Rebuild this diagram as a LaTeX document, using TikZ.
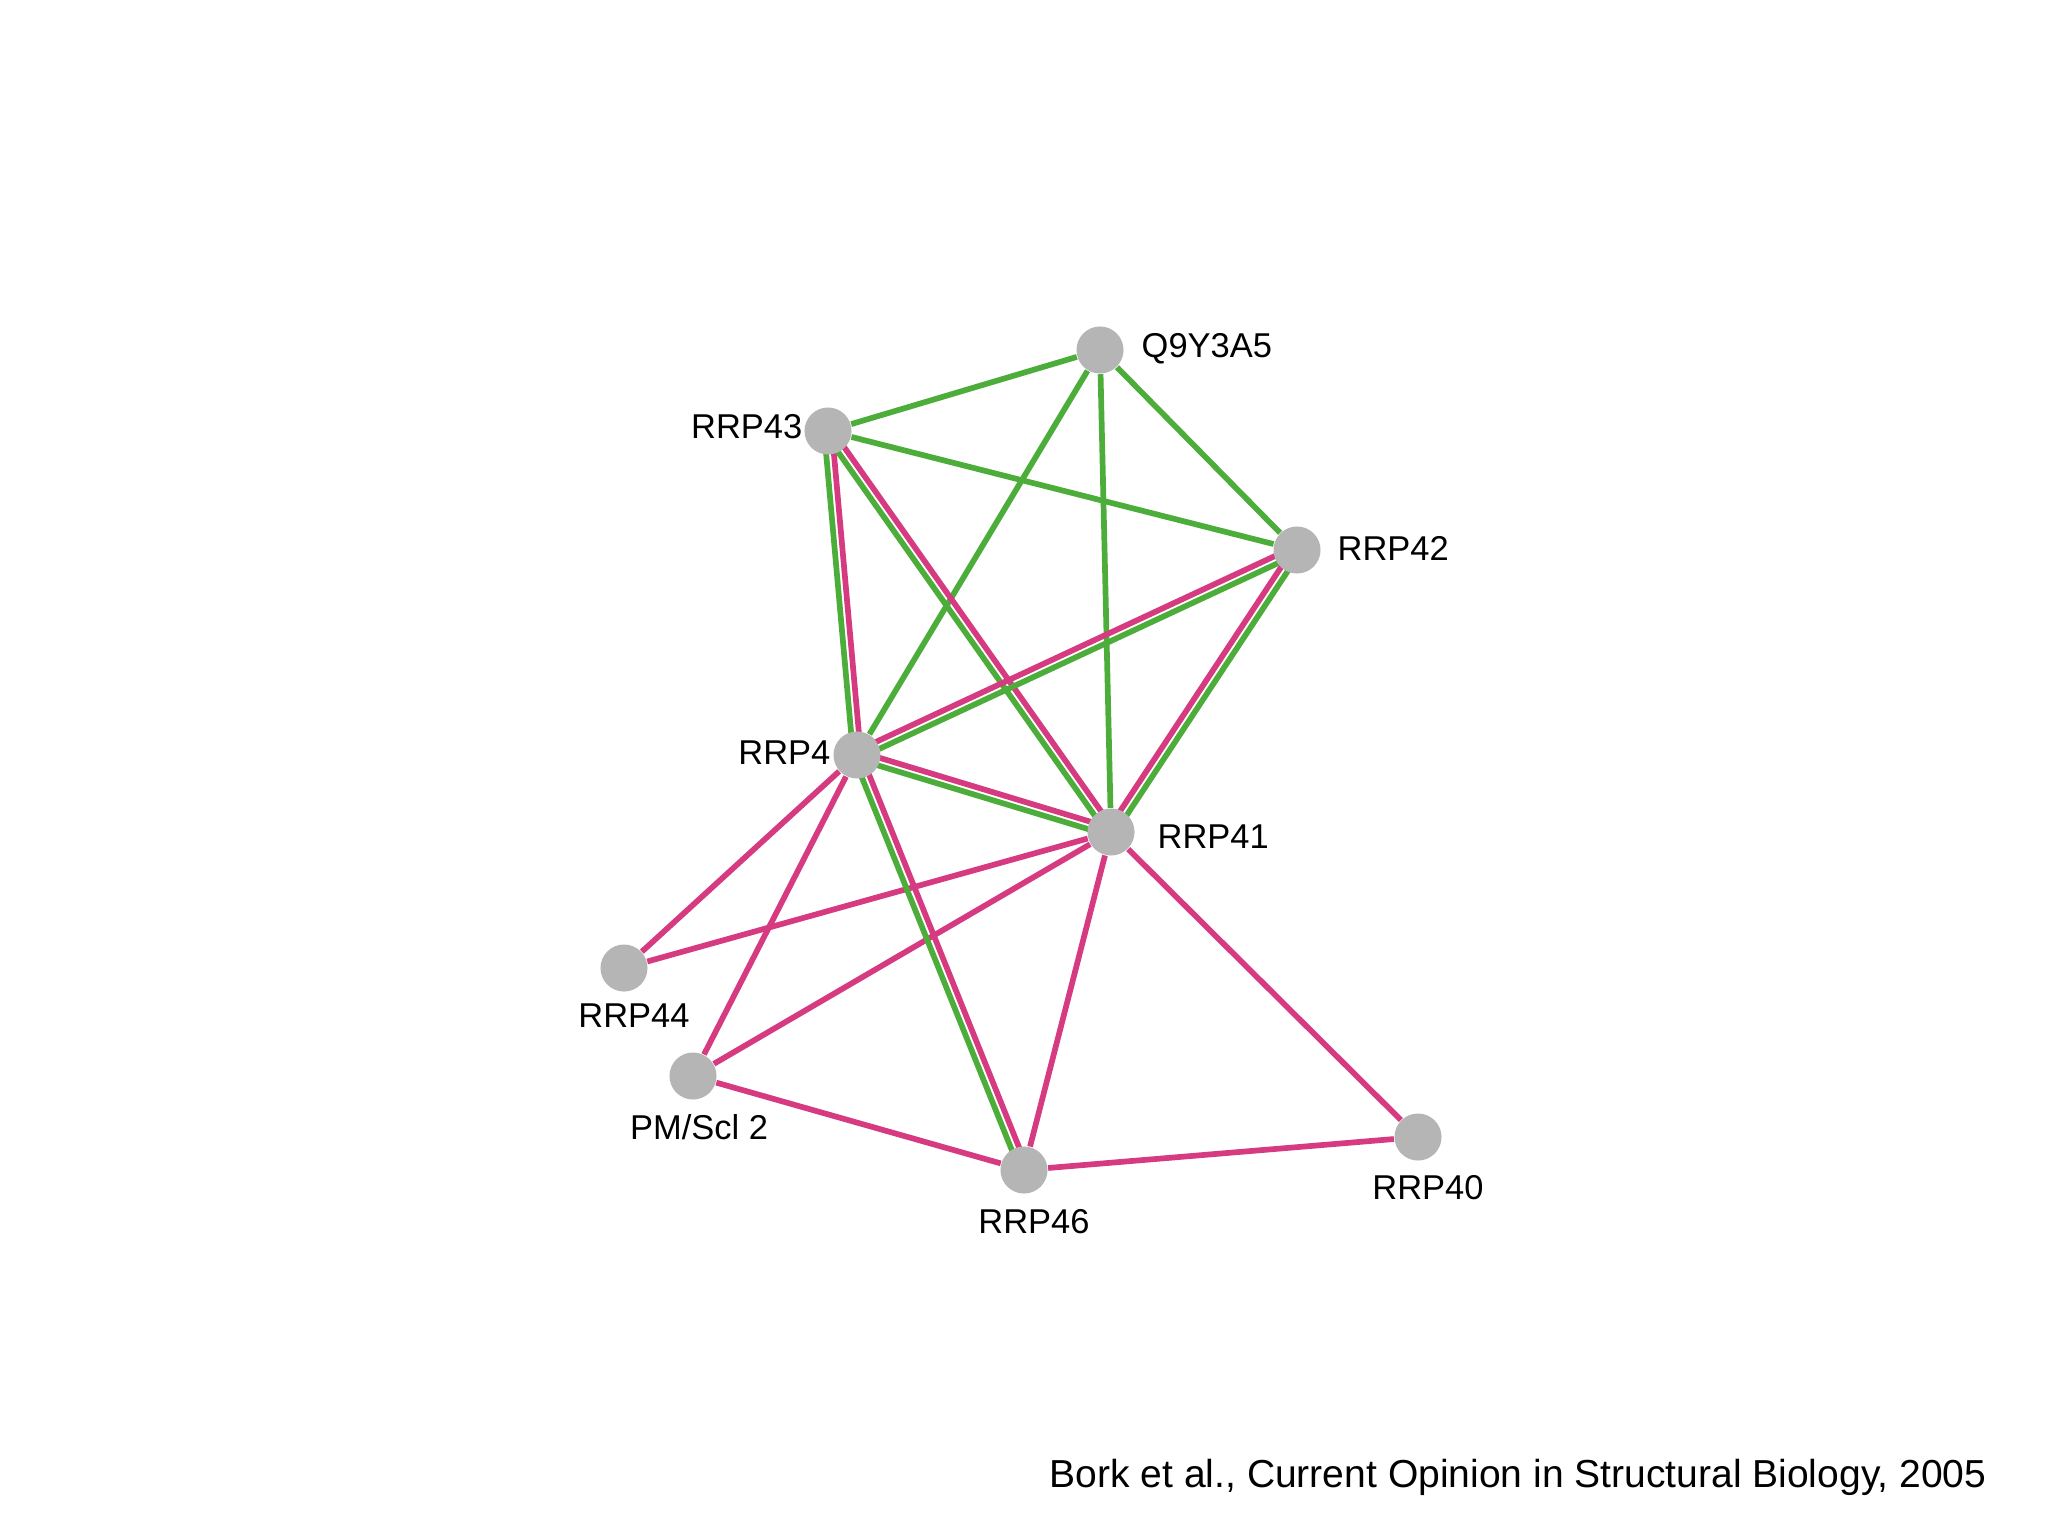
\documentclass[tikz,border=0pt]{standalone}
\usepackage{fontspec}
\setmainfont{Liberation Sans}
\usetikzlibrary{calc,backgrounds}
\definecolor{grn}{RGB}{77,173,58}
\definecolor{pnk}{RGB}{214,58,128}
\definecolor{ndgray}{RGB}{181,181,181}
\tikzset{
  prot/.style={circle, fill=ndgray, minimum size=0.47cm, inner sep=0pt},
  lbl/.style={inner sep=0pt, font=\fontsize{9.8}{11}\selectfont, text=black},
  gline/.style={draw=grn, line width=1.62pt},
  pline/.style={draw=pnk, line width=1.62pt},
}
\newcommand\twinedge[2]{%
  \draw[gline] ($(#1.center)!1.1pt!-90:(#2.center)$) -- ($(#2.center)!1.1pt!90:(#1.center)$);
  \draw[pline] ($(#1.center)!1.1pt!90:(#2.center)$) -- ($(#2.center)!1.1pt!-90:(#1.center)$);
}
\begin{document}
\begin{tikzpicture}[x=0.01cm, y=-0.01cm]
\useasboundingbox (0,0) rectangle (2048,1536);
% proteins
\node[prot] (q9)   at (1100,350) {};
\node[prot] (r43)  at (828,431) {};
\node[prot] (r42)  at (1297,550) {};
\node[prot] (r4)   at (857,755) {};
\node[prot] (r41)  at (1111,832) {};
\node[prot] (r44)  at (624,968) {};
\node[prot] (pm)   at (693,1076) {};
\node[prot] (r46)  at (1024,1170) {};
\node[prot] (r40)  at (1418,1137) {};
% labels
\node[lbl, anchor=base west] (lq9)  at (1141,357) {Q9Y3A5};
\node[lbl, anchor=base east] (l43)  at (803,438) {RRP43};
\node[lbl, anchor=base west] (l42)  at (1337,560) {RRP42};
\node[lbl, anchor=base east] (l4)   at (831,764) {RRP4};
\node[lbl, anchor=base west] (l41)  at (1157,848) {RRP41};
\node[lbl, anchor=base] (l44)  at (634,1027) {RRP44};
\node[lbl, anchor=base] (lpm)  at (699,1139) {PM/Scl 2};
\node[lbl, anchor=base] (l46)  at (1034,1233) {RRP46};
\node[lbl, anchor=base] (l40)  at (1428,1199) {RRP40};
\node[inner sep=0pt, anchor=base west, font=\fontsize{11.1}{13}\selectfont] (cite) at (1049,1487)
  {Bork et al., Current Opinion in Structural Biology, 2005};
\begin{scope}[on background layer]
  \fill[white] (0,0) rectangle (2048,1536);
  % green only
  \draw[gline] (q9) -- (r43);
  \draw[gline] (q9) -- (r4);
  \draw[gline] (q9) -- (r41);
  \draw[gline] (q9) -- (r42);
  \draw[gline] (r43) -- (r42);
  % pink only
  \draw[pline] (r4) -- (r44);
  \draw[pline] (r4) -- (pm);
  \draw[pline] (r41) -- (r44);
  \draw[pline] (r41) -- (pm);
  \draw[pline] (r41) -- (r46);
  \draw[pline] (r41) -- (r40);
  \draw[pline] (pm) -- (r46);
  \draw[pline] (r46) -- (r40);
  % green + pink
  \twinedge{r43}{r4}
  \twinedge{r43}{r41}
  \twinedge{r4}{r42}
  \twinedge{r4}{r41}
  \twinedge{r41}{r42}
  \twinedge{r4}{r46}
\end{scope}
\end{tikzpicture}
\end{document}
